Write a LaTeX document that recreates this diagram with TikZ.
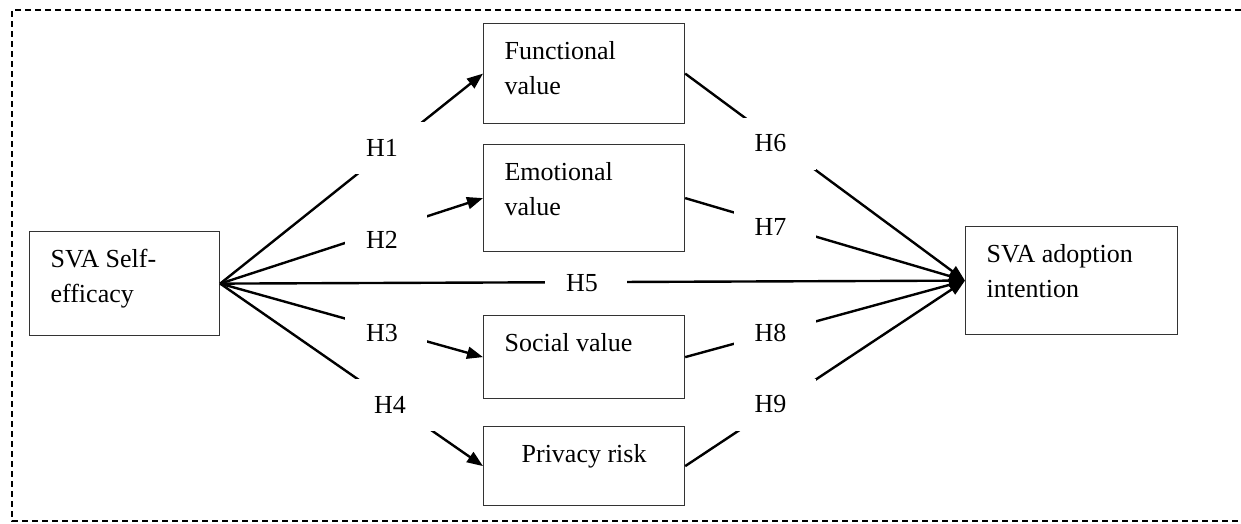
\documentclass[tikz,border=0pt]{standalone}
\usepackage{fontspec}
\setmainfont{Liberation Serif}
\usetikzlibrary{arrows.meta}
\newcommand{\boxtxt}[3]{\begin{minipage}[t][#1][t]{#2}\raggedright\rule{0pt}{36pt}#3\end{minipage}}
\tikzset{
  conbox/.style={draw=black!80, line width=1.2pt, inner xsep=21pt, inner ysep=0pt, anchor=north west, font=\fontsize{26}{35}\selectfont},
  hyp/.style={fill=white, minimum height=52pt, text width=40pt, align=left, inner xsep=21pt, inner ysep=0pt, font=\fontsize{26}{35}\selectfont},
  arr/.style={line width=2.4pt, -{Triangle[length=16pt,width=12pt]}},
  border/.style={line width=1.3pt, dash pattern=on 6pt off 4pt},
}
\begin{document}
\begin{tikzpicture}[x=1pt,y=-1pt]
\useasboundingbox (0,0) rectangle (1241,523);
\draw[border] (1241,10) -- (12,10) -- (12,521) -- (1241,521);
% boxes
\node[conbox] (sva) at (29,231) {\boxtxt{104pt}{148pt}{SVA Self-\\efficacy}};
\node[conbox] (func) at (483,23) {\boxtxt{100pt}{159pt}{Functional\\value}};
\node[conbox] (emo) at (483,144) {\boxtxt{107pt}{159pt}{Emotional\\value}};
\node[conbox] (soc) at (483,315) {\boxtxt{83pt}{159pt}{Social value}};
\node[conbox] (priv) at (483,426) {\boxtxt{79pt}{159pt}{\centering Privacy risk}};
\node[conbox] (adopt) at (965,226) {\boxtxt{108pt}{170pt}{SVA adoption\\intention}};
% connectors
\draw[arr] (sva.east) -- (func.west);
\draw[arr] (sva.east) -- (emo.west);
\draw[arr] (sva.east) -- (soc.west);
\draw[arr] (sva.east) -- (priv.west);
\draw[arr] (sva.east) -- (adopt.west);
\draw[arr] (func.east) -- (adopt.west);
\draw[arr] (emo.east) -- (adopt.west);
\draw[arr] (soc.east) -- (adopt.west);
\draw[arr] (priv.east) -- (adopt.west);
% hypothesis labels
\node[hyp] (h1) at (386,147.5) {H1};
\node[hyp] (h2) at (386,239.5) {H2};
\node[hyp] (h3) at (386,333.5) {H3};
\node[hyp] (h4) at (394,404.5) {H4};
\node[hyp] (h5) at (586,283.5) {H5};
\node[hyp] (h6) at (774.5,143.5) {H6};
\node[hyp] (h7) at (774.5,226.5) {H7};
\node[hyp] (h8) at (774.5,332.5) {H8};
\node[hyp] (h9) at (774.5,404.5) {H9};
\end{tikzpicture}
\end{document}
